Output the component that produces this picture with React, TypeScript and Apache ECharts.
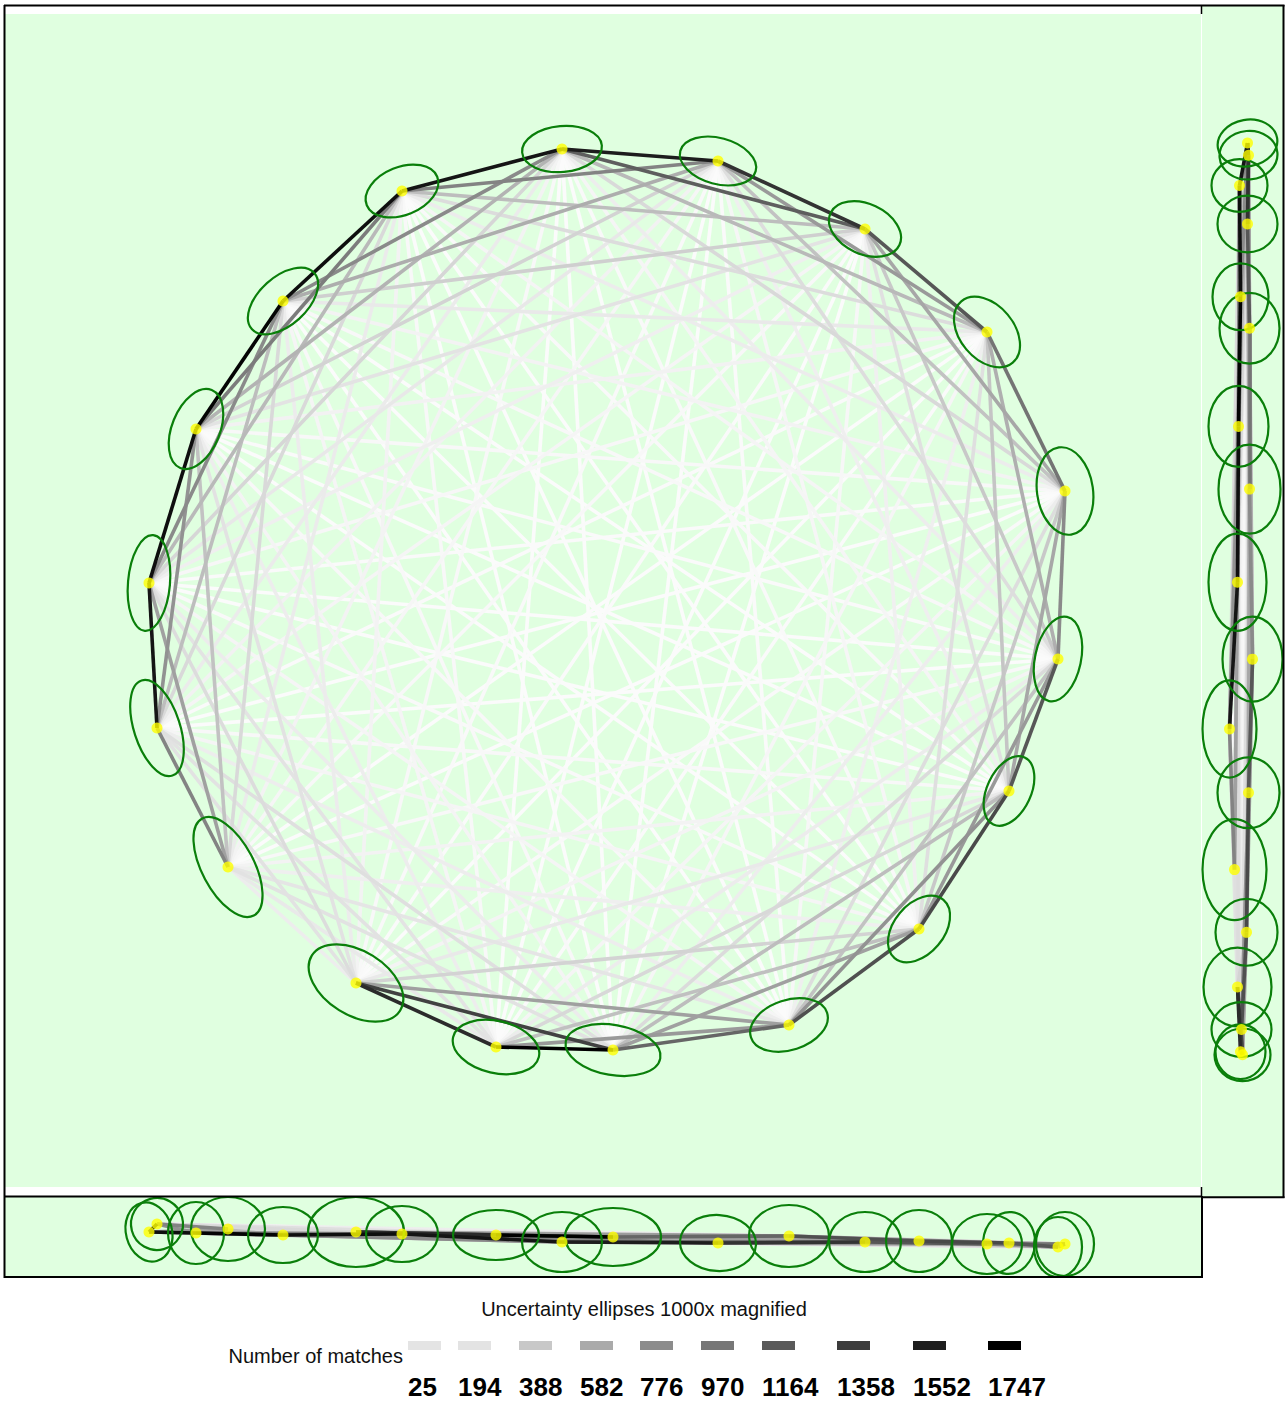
import React, { useEffect, useRef } from "react";
import * as echarts from "echarts";

// Camera positions: X / Y in the top view, Z (altitude offset) for the side views
const camX = [557, 713, 860, 982, 1060, 1053, 1004, 914, 784, 608, 491, 351, 223, 152, 144, 191, 278, 397];
const camY = [135, 147, 215, 318, 477, 645, 777, 915, 1011, 1036, 1033, 969, 853, 714, 569, 415, 287, 177];
const camZ = [42, 43, 42, 44, 44, 47, 43, 41, 36, 37, 35, 32, 29, 24, 32, 33, 35, 34];

// Number of matches between camera i and camera j (j > i), upper triangle row by row
const matchRows = [
  [1550, 1100, 480, 260, 120, 70, 40, 30, 25, 30, 45, 80, 140, 280, 520, 800, 1600],
  [1400, 700, 420, 230, 110, 60, 35, 25, 30, 40, 60, 90, 160, 300, 560, 850],
  [1150, 600, 380, 210, 100, 55, 30, 28, 35, 50, 70, 110, 190, 330, 450],
  [950, 550, 400, 220, 110, 60, 35, 28, 25, 35, 55, 90, 150, 240],
  [800, 600, 380, 230, 120, 70, 40, 30, 25, 35, 50, 85, 130],
  [1150, 700, 420, 250, 130, 75, 45, 30, 28, 32, 45, 70],
  [1250, 750, 450, 270, 150, 80, 45, 30, 25, 30, 40],
  [1200, 650, 430, 300, 110, 70, 40, 30, 25, 28],
  [1050, 700, 650, 180, 120, 70, 45, 30, 25],
  [1747, 1300, 200, 220, 130, 75, 45, 30],
  [1450, 150, 200, 190, 120, 70, 45],
  [120, 200, 240, 200, 130, 80],
  [850, 650, 420, 260, 140],
  [1600, 750, 450, 260],
  [1650, 800, 480],
  [1720, 900],
  [1650],
];

// Uncertainty ellipses (1000x magnified): [semi-axis a, semi-axis b, clockwise tilt in degrees]
const topEllipse = [
  [40, 23, -5], [39, 23, 15], [38, 25, 25], [40, 27, 50], [28, 44, -8], [23, 43, 12],
  [22, 37, 25], [25, 38, 40], [40, 25, -18], [48, 25, 10], [44, 26, 13], [52, 32, 32],
  [26, 55, -28], [23, 50, -18], [21, 48, 5], [24, 42, 22], [24, 42, 48], [38, 24, -22],
];
const bottomEllipse = [
  [40, 30, 0], [38, 28, 3], [36, 30, 0], [35, 30, 0], [29, 32, 0], [24, 30, 0],
  [26, 31, 5], [33, 31, 0], [40, 31, 0], [48, 29, 0], [43, 25, 0], [48, 35, 0],
  [37, 32, 0], [26, 26, -15], [23, 30, -15], [28, 31, 0], [35, 28, 0], [36, 28, 0],
];
const rightEllipse = [
  [30, 23, -10], [29, 24, -5], [30, 28, 0], [30, 35, 0], [31, 44, 0], [30, 42, 0],
  [31, 35, 0], [31, 33, 0], [30, 27, 0], [28, 26, 0], [25, 27, 0], [34, 39, 0],
  [32, 50, 0], [27, 48, 0], [29, 48, 0], [30, 40, 0], [28, 33, 0], [28, 26, 0],
];

// Legend of the match-count shading
const legendValues = [25, 194, 388, 582, 776, 970, 1164, 1358, 1552, 1747];
const legendShades = ["#e4e4e4", "#e3e3e3", "#c8c8c8", "#aaaaaa", "#8c8c8c", "#777777", "#5a5a5a", "#3c3c3c", "#1e1e1e", "#000000"];

const MAX_MATCHES = 1747;
const GREEN_BG = "#e0ffe0";
const ELLIPSE_GREEN = "#0a7f0a";
const FONT = '"Liberation Sans", Arial, Helvetica, sans-serif';

function shade(m: number): string {
  const g = Math.max(0, Math.min(255, Math.round(255 * (1 - m / MAX_MATCHES))));
  return `rgb(${g},${g},${g})`;
}

type Pair = { i: number; j: number; m: number };

function buildPairs(): Pair[] {
  const out: Pair[] = [];
  matchRows.forEach((row, i) => {
    row.forEach((m, k) => out.push({ i, j: i + 1 + k, m }));
  });
  // light links first so the strong links stay on top
  return out.sort((a, b) => a.m - b.m);
}

function buildOption() {
  const pairs = buildPairs();
  const views = [
    { px: camX, py: camY, ell: topEllipse },
    { px: camX, py: camZ, ell: bottomEllipse },
    { px: camZ, py: camY, ell: rightEllipse },
  ];

  const series: any[] = [];
  views.forEach((v, idx) => {
    series.push({
      type: "lines",
      coordinateSystem: "cartesian2d",
      xAxisIndex: idx,
      yAxisIndex: idx,
      silent: true,
      polyline: false,
      lineStyle: { width: 3.6, opacity: 1 },
      data: pairs.map((p) => ({
        coords: [
          [v.px[p.i], v.py[p.i]],
          [v.px[p.j], v.py[p.j]],
        ],
        lineStyle: { color: shade(p.m), width: 3.6, opacity: 1 },
      })),
      z: 2,
    });
    series.push({
      type: "custom",
      coordinateSystem: "cartesian2d",
      xAxisIndex: idx,
      yAxisIndex: idx,
      silent: true,
      clip: false,
      data: v.px.map((x, i) => [x, v.py[i], v.ell[i][0], v.ell[i][1], v.ell[i][2]]),
      encode: { x: 0, y: 1 },
      renderItem: (params: any, api: any) => {
        const c = api.coord([api.value(0), api.value(1)]);
        const s = api.size([api.value(2), api.value(3)]);
        return {
          type: "ellipse",
          x: c[0],
          y: c[1],
          rotation: (-api.value(4) * Math.PI) / 180,
          shape: { cx: 0, cy: 0, rx: Math.abs(s[0]), ry: Math.abs(s[1]) },
          style: { fill: "none", stroke: ELLIPSE_GREEN, lineWidth: 2.2 },
        };
      },
      z: 3,
    });
    series.push({
      type: "scatter",
      xAxisIndex: idx,
      yAxisIndex: idx,
      silent: true,
      symbol: "circle",
      symbolSize: 11,
      itemStyle: { color: "#ffff00" },
      data: v.px.map((x, i) => [x, v.py[i]]),
      z: 4,
    });
  });

  const hidden = { show: false };
  const legendX = [408, 458, 519, 580, 640, 701, 762, 837, 913, 988];

  const graphic: any[] = [
    // panel backgrounds
    { type: "rect", z: -10, shape: { x: 4, y: 5, width: 1198, height: 1192 }, style: { fill: "#ffffff" } },
    { type: "rect", z: -9, shape: { x: 5, y: 14, width: 1196, height: 1173 }, style: { fill: GREEN_BG } },
    { type: "rect", z: -9, shape: { x: 1202, y: 6, width: 81, height: 1191 }, style: { fill: GREEN_BG } },
    { type: "rect", z: -9, shape: { x: 5, y: 1197, width: 1197, height: 80 }, style: { fill: GREEN_BG } },
    // frame lines
    { type: "line", z: 50, shape: { x1: 4, y1: 5.5, x2: 1284.5, y2: 5.5 }, style: { stroke: "#000", lineWidth: 2 } },
    { type: "line", z: 50, shape: { x1: 4.5, y1: 5, x2: 4.5, y2: 1278 }, style: { stroke: "#000", lineWidth: 2 } },
    { type: "line", z: 50, shape: { x1: 1283.5, y1: 5, x2: 1283.5, y2: 1198 }, style: { stroke: "#000", lineWidth: 2 } },
    { type: "line", z: 50, shape: { x1: 1201, y1: 1197.2, x2: 1284.5, y2: 1197.2 }, style: { stroke: "#000", lineWidth: 2 } },
    { type: "line", z: 50, shape: { x1: 4, y1: 1196.5, x2: 1202, y2: 1196.5 }, style: { stroke: "#000", lineWidth: 2 } },
    { type: "line", z: 50, shape: { x1: 4, y1: 1277, x2: 1203, y2: 1277 }, style: { stroke: "#000", lineWidth: 2 } },
    { type: "line", z: 50, shape: { x1: 1202, y1: 1196, x2: 1202, y2: 1278 }, style: { stroke: "#000", lineWidth: 2 } },
    { type: "line", z: 50, shape: { x1: 1201.5, y1: 5, x2: 1201.5, y2: 14 }, style: { stroke: "#000", lineWidth: 1.5 } },
    { type: "line", z: 50, shape: { x1: 1201.5, y1: 1187, x2: 1201.5, y2: 1197 }, style: { stroke: "#000", lineWidth: 1.5 } },
    // legend
    {
      type: "text",
      z: 50,
      style: {
        text: "Uncertainty ellipses 1000x magnified",
        x: 644,
        y: 1309,
        fill: "#111",
        fontSize: 20,
        fontFamily: FONT,
        textAlign: "center",
        textVerticalAlign: "middle",
      },
    },
    {
      type: "text",
      z: 50,
      style: {
        text: "Number of matches",
        x: 403,
        y: 1356,
        fill: "#111",
        fontSize: 20,
        fontFamily: FONT,
        textAlign: "right",
        textVerticalAlign: "middle",
      },
    },
  ];
  legendValues.forEach((val, k) => {
    graphic.push({
      type: "rect",
      z: 50,
      shape: { x: legendX[k], y: 1341, width: 33, height: 9 },
      style: { fill: legendShades[k] },
    });
    graphic.push({
      type: "text",
      z: 50,
      style: {
        text: String(val),
        x: legendX[k],
        y: 1387,
        fill: "#000",
        fontSize: 26,
        fontWeight: "bold",
        fontFamily: FONT,
        textAlign: "left",
        textVerticalAlign: "middle",
      },
    });
  });

  return {
    animation: false,
    backgroundColor: "#ffffff",
    grid: [
      { left: 5, top: 14, width: 1196, height: 1173, show: false },
      { left: 5, top: 1197, width: 1196, height: 80, show: false },
      { left: 1202, top: 6, width: 81, height: 1191, show: false },
    ],
    xAxis: [
      { type: "value", gridIndex: 0, min: 0, max: 1196, ...hidden },
      { type: "value", gridIndex: 1, min: 0, max: 1196, ...hidden },
      { type: "value", gridIndex: 2, min: -3.5, max: 77.5, ...hidden },
    ],
    yAxis: [
      { type: "value", gridIndex: 0, min: 0, max: 1173, inverse: true, ...hidden },
      { type: "value", gridIndex: 1, min: -3, max: 77, inverse: true, ...hidden },
      { type: "value", gridIndex: 2, min: -0.4, max: 1176.5, inverse: true, ...hidden },
    ],
    series,
    graphic,
  };
}

export default function App() {
  const ref = useRef<HTMLDivElement>(null);
  useEffect(() => {
    document.body.style.margin = "0";
    const chart = echarts.init(ref.current!, null, { renderer: "svg" });
    chart.setOption(buildOption());
    return () => chart.dispose();
  }, []);
  return (
    <div
      ref={ref}
      style={{ position: "absolute", left: 0, top: 0, width: 1287, height: 1402 }}
    />
  );
}
